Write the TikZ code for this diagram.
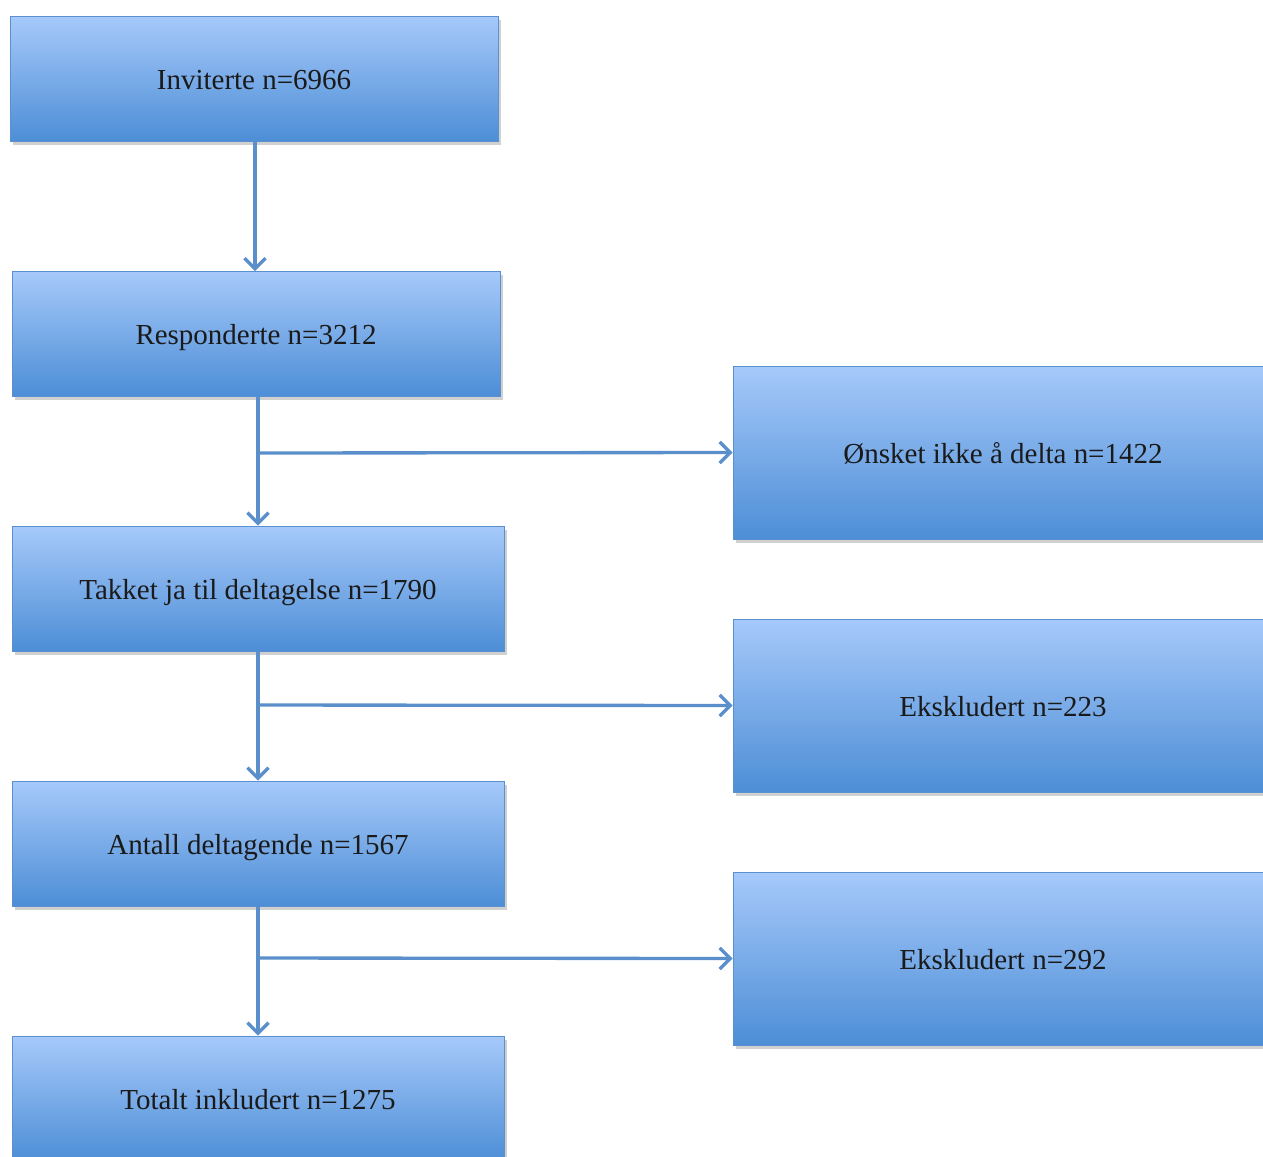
\documentclass[tikz,border=0pt]{standalone}
\usepackage{fontspec}
\setmainfont{Liberation Serif}
\usetikzlibrary{arrows.meta,shadows}
\definecolor{boxtop}{HTML}{A6C9FA}
\definecolor{boxbot}{HTML}{4D8ED6}
\definecolor{boxedge}{HTML}{5A90CF}
\definecolor{arrowblue}{HTML}{5A8FCC}
\definecolor{txt}{HTML}{1A1A1A}
\begin{document}
\begin{tikzpicture}[x=0.02cm,y=-0.02cm,
  flowbox/.style={rectangle, draw=boxedge, line width=0.5pt, top color=boxtop, bottom color=boxbot,
    minimum height=2.5cm, inner sep=0pt, text=txt, text height=13pt, text depth=0pt,
    font=\fontsize{16.5}{20}\selectfont,
    drop shadow={shadow xshift=1.5pt, shadow yshift=-2pt, opacity=0.3, fill=black!60}},
  leftbox/.style={flowbox, minimum width=9.84cm},
  sidebox/.style={flowbox, minimum width=10.8cm, minimum height=3.46cm},
  flowarrow/.style={draw=arrowblue, line width=1.9pt, -{Straight Barb[length=6pt,width=12pt,line width=1.9pt]}}]
\useasboundingbox (0,0) rectangle (1263,1156);
\clip (0,0) rectangle (1263,1156);
\fill[white] (0,0) rectangle (1263,1156);

\node[flowbox, minimum width=9.76cm] (b1) at (254,78.5) {Inviterte n=6966};
\node[flowbox, minimum width=9.76cm] (b2) at (256,333.5) {Responderte n=3212};
\node[leftbox] (b3) at (258,588.5) {Takket ja til deltagelse n=1790};
\node[leftbox] (b4) at (258,843.5) {Antall deltagende n=1567};
\node[leftbox] (b5) at (258,1098.5) {Totalt inkludert n=1275};

\node[sidebox] (r1) at (1003,452.5) {Ønsket ikke å delta n=1422};
\node[sidebox] (r2) at (1003,705.5) {Ekskludert n=223};
\node[sidebox] (r3) at (1003,958.5) {Ekskludert n=292};

\coordinate (j1) at (258,453);
\coordinate (j2) at (258,705);
\coordinate (j3) at (258,958);
\coordinate (t2) at (255,271);

\draw[flowarrow] (b1.south -| t2) -- (t2);
\draw[flowarrow] (b2.south -| b3.north) -- (b3.north);
\draw[flowarrow] (b3.south) -- (b4.north);
\draw[flowarrow] (b4.south) -- (b5.north);
\draw[flowarrow] (j1) -- (r1.west);
\draw[flowarrow] (j2) -- (r2.west);
\draw[flowarrow] (j3) -- (r3.west);
\end{tikzpicture}
\end{document}
